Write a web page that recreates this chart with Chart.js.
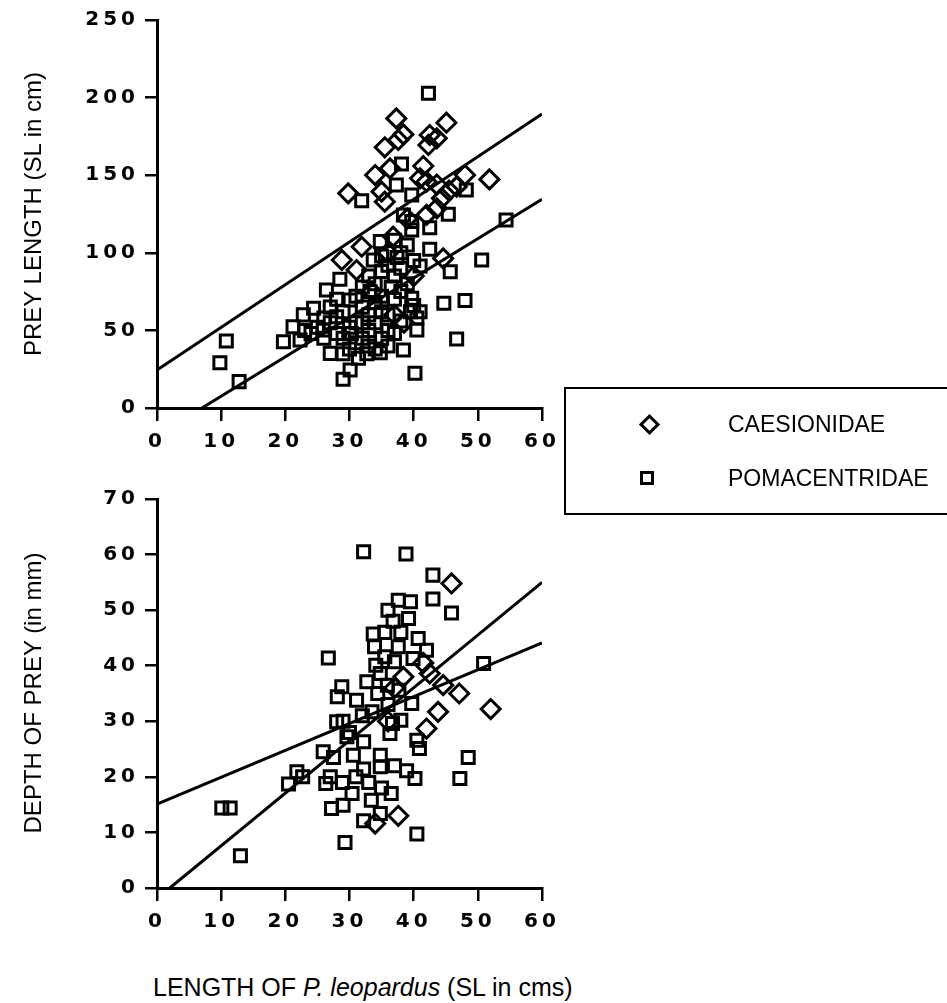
<!DOCTYPE html>
<html>
<head>
<meta charset="utf-8">
<script src="https://cdn.jsdelivr.net/npm/chart.js@4"></script>
<style>
  body { margin: 0; background: #fff; width: 947px; height: 1003px; overflow: hidden; position: relative; font-family: "Liberation Sans", Arial, sans-serif; }
  canvas { position: absolute; left: 0; }
  #topChart { top: 0; }
  #bottomChart { top: 470px; }
  .ytitle { position: absolute; white-space: nowrap; font-size: 24px; transform: translate(-50%, -50%) rotate(-90deg); }
  #xtitle { position: absolute; left: 153px; top: 973px; font-size: 25px; white-space: nowrap; }
  #legend { position: absolute; left: 564px; top: 387px; width: 400px; height: 124px; border: 2px solid #000; }
  .diamond { position: absolute; left: 76px; width: 9px; height: 9px; border: 3px solid #000; transform: rotate(45deg); }
  .square { position: absolute; left: 74px; width: 8px; height: 8px; border: 3px solid #000; }
  .label { position: absolute; left: 162px; white-space: nowrap; font-size: 23px; }
</style>
</head>
<body>
<canvas id="topChart" width="570" height="470"></canvas>
<canvas id="bottomChart" width="570" height="480"></canvas>

<div class="ytitle" style="left:33px; top:214px;">PREY LENGTH (SL in cm)</div>
<div class="ytitle" style="left:33px; top:693px;">DEPTH OF PREY (in mm)</div>
<div id="xtitle">LENGTH OF <i>P. leopardus</i> (SL in cms)</div>

<div id="legend">
  <div class="diamond" style="top:28px;"></div>
  <div class="label" style="top:22px;">CAESIONIDAE</div>
  <div class="square" style="top:82px;"></div>
  <div class="label" style="top:76px;">POMACENTRIDAE</div>
</div>

<script>
// Tick labels
const xTicks = [0, 10, 20, 30, 40, 50, 60];
const lengthTicks = [0, 50, 100, 150, 200, 250];
const depthTicks = [0, 10, 20, 30, 40, 50, 60, 70];

// Prey length vs predator length [x, y]
const caesLength = [
    [37.3, 186.6], [45.1, 183.8], [38.4, 176.3], [42.5, 175.9], [37.6, 172.7], [43.6, 173.8],
    [35.5, 168], [42.3, 169.5], [41.5, 155.9], [36.3, 154.4], [34.0, 150.1], [48.0, 150.1],
    [51.8, 147.3], [42.0, 145.8], [43.6, 144], [35.0, 139.4], [29.8, 138.3], [46.7, 142.6],
    [35.5, 132.9], [44.4, 135.1], [43.6, 128.7], [42.0, 124.4], [36.8, 110.4], [31.9, 103.9],
    [28.8, 95.4], [31.1, 88.9], [44.6, 96.4], [37.0, 60], [38.5, 55], [33.5, 75], [40, 85],
    [36, 100], [45.5, 140], [41, 148], [39, 122]
];
const pomaLength = [
    [42.3, 202.8], [38.1, 157.2], [37.3, 143.7], [39.7, 137.2], [31.9, 133.6], [48.2, 140.5],
    [45.4, 124.8], [38.4, 124.4], [42.5, 116.2], [39.7, 120.1], [39.7, 114.7], [34.8, 107.2],
    [42.5, 102.3], [50.6, 95.4], [54.4, 121.1], [45.7, 87.8], [41.0, 91.5], [33.7, 95.4],
    [37.4, 97], [28.5, 82.9], [26.4, 76], [39.7, 70.7], [44.7, 67.5], [48.0, 69.2],
    [24.4, 64.2], [22.8, 60], [21.2, 52.4], [19.7, 42.7], [22.3, 43.8], [10.8, 43.2],
    [9.8, 29.2], [12.8, 17], [29.0, 18.5], [30.1, 24.5], [40.2, 22.4], [46.7, 44.5],
    [38.4, 37.4], [34.8, 35.6], [27.0, 35.2], [40.5, 50.3], [40.5, 58], [32.7, 35],
    [31.4, 32], [28.0, 58.8], [25.9, 50.3], [30.1, 69.6], [33.2, 75], [30.3, 48],
    [35, 88], [36, 92], [37, 85], [38, 90], [36.5, 78], [34, 80], [35, 72], [37, 70],
    [38, 75], [39, 80], [40, 95], [32, 65], [33, 60], [34, 55], [31, 55], [30, 52],
    [29, 45], [28, 48], [27, 55], [26, 45], [25, 52], [24, 48], [23, 50], [31, 42],
    [32, 45], [33, 40], [34, 38], [35, 45], [36, 50], [37, 48], [36, 60], [35, 62],
    [34, 68], [33, 85], [31, 72], [29, 62], [27, 65], [28, 70], [32, 78], [38, 100],
    [39, 105], [37, 108], [35, 98], [39.5, 62], [40, 66], [36, 40], [30, 38], [29, 35],
    [33, 50], [38, 56], [41, 62], [26, 58], [32, 55]
];
const caesLengthFit = [[0, 24.5], [60, 189.5]];
const pomaLengthFit = [[7, 0], [60, 134.5]];

// Prey depth vs predator length [x, y]
const caesDepth = [
    [45.9, 54.8], [38.4, 38.0], [42.5, 38.6], [44.6, 36.5], [47.1, 35.0], [52.0, 32.2],
    [43.8, 31.7], [42.0, 28.7], [37.6, 13.0], [34.0, 11.6], [41.5, 40.5], [37, 36], [36, 30]
];
const pomaDepth = [
    [32.2, 60.5], [38.8, 60.1], [43.0, 56.3], [43.0, 52.0], [45.9, 49.5], [37.6, 51.8],
    [39.5, 51.5], [36.0, 50], [39.2, 48.5], [36.8, 48], [33.7, 45.7], [40.7, 44.9],
    [33.9, 43.4], [37.6, 43.4], [42.0, 42.8], [39.9, 41.3], [35.5, 41.6], [26.7, 41.4],
    [37.0, 40.7], [34.1, 40.1], [50.9, 40.4], [34.8, 38.6], [32.7, 37.1], [35.9, 36.5],
    [28.8, 36.2], [37.7, 35.6], [28.1, 34.4], [31.1, 33.8], [39.7, 33.2], [34.4, 35],
    [33.5, 31.7], [38.0, 30.2], [36.7, 29.6], [28.0, 29.9], [36.3, 27.8], [40.5, 26.6],
    [40.9, 25.1], [29.6, 27.2], [32.2, 26.3], [25.9, 24.5], [30.6, 23.9], [34.8, 23.9],
    [48.5, 23.5], [27.5, 23.5], [32.2, 21.4], [34.8, 21.8], [38.9, 21.1], [40.2, 19.7],
    [47.2, 19.7], [21.8, 20.9], [22.7, 20], [20.5, 18.7], [26.3, 18.8], [28.9, 19.0],
    [30.4, 17], [36.5, 17], [33.4, 15.8], [29.0, 14.9], [27.2, 14.3], [34.8, 13.4],
    [32.2, 12.1], [10.1, 14.4], [11.4, 14.4], [13.0, 5.8], [29.3, 8.2], [40.5, 9.7],
    [35.5, 46], [38, 46], [36, 33], [32, 31], [30, 28], [33, 19], [35, 18], [37, 22],
    [31, 20], [29, 30], [27, 20]
];
const caesDepthFit = [[2, 0], [60, 55]];
const pomaDepthFit = [[0, 15.1], [60, 44.1]];

const toPts = arr => arr.map(p => ({ x: p[0], y: p[1] }));

const tickFont = { family: '"DejaVu Sans", sans-serif', size: 20, weight: 'bold' };

// letter-spaced tick labels like the printed figure
const spacing = {
    id: 'spacing',
    beforeDraw: chart => { chart.ctx.letterSpacing = '4px'; }
};

const pointSet = (data, style) => ({
    data: toPts(data),
    pointStyle: style,
    pointRadius: style === 'rectRot' ? 9.5 : 8.5,
    pointHoverRadius: style === 'rectRot' ? 9.5 : 8.5,
    borderColor: '#000',
    backgroundColor: 'rgba(0,0,0,0)',
    pointBorderWidth: 3,
    showLine: false
});

const lineSet = data => ({
    data: toPts(data),
    showLine: true,
    borderColor: '#000',
    borderWidth: 3,
    pointRadius: 0,
    fill: false
});

const makeChart = (id, sets, yMax, yTicks, padTop, xHeight) => {
    return new Chart(document.getElementById(id), {
        type: 'scatter',
        data: { datasets: sets },
        plugins: [spacing],
        options: {
            responsive: false,
            animation: false,
            events: [],
            layout: { padding: { top: padTop, right: 28, left: 0, bottom: 0 } },
            plugins: { legend: { display: false }, tooltip: { enabled: false } },
            scales: {
                x: {
                    min: 0, max: 60,
                    afterFit: s => { s.height = xHeight; },
                    afterBuildTicks: s => { s.ticks = xTicks.map(v => ({ value: v })); },
                    border: { display: true, color: '#000', width: 3 },
                    grid: { drawOnChartArea: false, drawTicks: true, tickLength: 13, color: '#000', lineWidth: 2.5 },
                    ticks: { color: '#000', font: tickFont, padding: 9, maxRotation: 0 }
                },
                y: {
                    min: 0, max: yMax,
                    afterFit: s => { s.width = 157; },
                    afterBuildTicks: s => { s.ticks = yTicks.map(v => ({ value: v })); },
                    border: { display: true, color: '#000', width: 3 },
                    grid: { drawOnChartArea: false, drawTicks: true, tickLength: 12, color: '#000', lineWidth: 2.5 },
                    ticks: { color: '#000', font: tickFont, padding: 6 }
                }
            }
        }
    });
};

makeChart('topChart', [
    pointSet(pomaLength, 'rect'),
    pointSet(caesLength, 'rectRot'),
    lineSet(caesLengthFit),
    lineSet(pomaLengthFit)
], 250, lengthTicks, 20, 62);

makeChart('bottomChart', [
    pointSet(pomaDepth, 'rect'),
    pointSet(caesDepth, 'rectRot'),
    lineSet(caesDepthFit),
    lineSet(pomaDepthFit)
], 70, depthTicks, 29, 62);
</script>
</body>
</html>
